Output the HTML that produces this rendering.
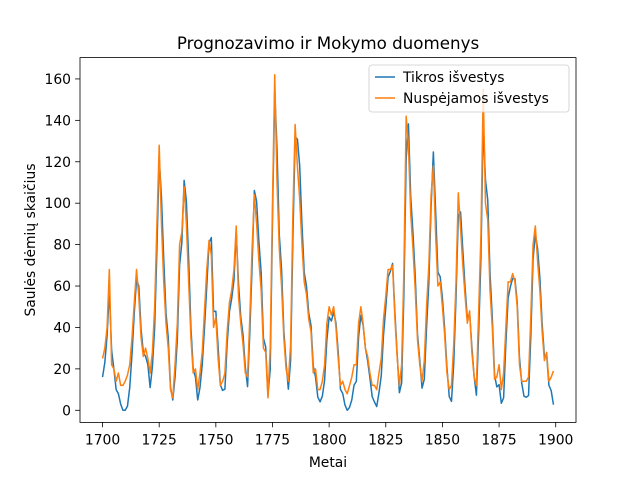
<!DOCTYPE html>
<html><head><meta charset="utf-8"><style>
body{margin:0;background:#fff}
svg text{font-family:"DejaVu Sans","Liberation Sans",sans-serif;fill:#000}
</style></head><body>
<svg id="chart" width="640" height="480">
<rect width="640" height="480" fill="#fff"/>
<text x="328" y="49" font-size="16.7" text-anchor="middle">Prognozavimo ir Mokymo duomenys</text>
<g id="plot"></g>
<text x="328" y="467" font-size="13.9" text-anchor="middle">Metai</text>
<text transform="translate(35,240) rotate(-90)" font-size="13.9" text-anchor="middle">Saulės dėmių skaičius</text>
</svg>
<script>
const startYear = 1700;
const actual = [16,23,36,58,29,20,10,8,3,0,0,2,11,27,47,63,60,39,28,26,22,11,21,40,78,122,103,73,47,35,11,5,16,34,70,81,111,101,73,40,20,16,5,11,22,40,60,80.9,83.4,47.7,47.8,30.7,12.2,9.6,10.2,32.4,47.6,54.0,62.9,85.9,61.2,45.1,36.4,20.9,11.4,37.8,69.8,106.1,100.8,81.6,66.5,34.8,30.6,7.0,19.8,92.5,154.4,125.9,84.8,68.1,38.5,22.8,10.2,24.1,82.9,132.0,130.9,118.1,89.9,66.6,60.0,46.9,41.0,21.3,16.0,6.4,4.1,6.8,14.5,34.0,45.0,43.1,47.5,42.2,28.1,10.1,8.1,2.5,0.0,1.4,5.0,12.2,13.9,35.4,45.8,41.1,30.1,23.9,15.6,6.6,4.0,1.8,8.5,16.6,36.3,49.6,64.2,67.0,70.9,47.8,27.5,8.5,13.2,56.9,121.5,138.3,103.2,85.7,64.6,36.7,24.2,10.7,15.0,40.1,61.5,98.5,124.7,96.3,66.6,64.5,54.1,39.0,20.6,6.7,4.3,22.7,54.8,93.8,95.8,77.2,59.1,44.0,47.0,30.5,16.3,7.3,37.6,74.0,139.0,111.2,101.6,66.2,44.7,17.0,11.3,12.4,3.4,6.0,32.3,54.3,59.7,63.7,63.5,52.2,25.4,13.1,6.8,6.3,7.1,35.6,73.0,85.1,78.0,64.0,41.8,26.2,26.7,12.1,9.5,2.7];
const predicted = [25,30,40,68,22,20,14,18,12,12,14,17,22,35,52,68,55,35,26,30,25,18,28,50,90,128,90,62,42,30,10,6,22,42,80,86,108,90,62,35,18,20,10,18,28,48,68,82,75,40,45,25,12,14,18,38,52,58,68,89,55,42,32,18,16,45,78,104,90,72,58,30,28,6,30,100,162,110,78,60,35,20,14,32,95,138,118,102,80,62,56,44,38,18,20,10,10,14,22,42,50,46,50,40,25,12,14,10,8,12,16,22,22,42,50,42,30,26,18,12,12,10,18,25,44,55,68,68,70,45,26,12,22,68,142,128,95,78,58,34,22,14,24,50,70,104,118,85,60,62,50,36,18,10,12,32,62,105,88,70,55,42,48,28,16,12,48,85,155,100,92,58,40,15,16,22,10,18,40,62,62,66,62,50,22,14,14,14,16,45,80,89,72,58,38,24,28,14,16,19];
const xTicks = [1700,1725,1750,1775,1800,1825,1850,1875,1900];
const yTicks = [0,20,40,60,80,100,120,140,160];

const L=80,R=576,T=57.6,B=422.4;
const xMin=1690.05,xMax=1908.95,yMin=-5.85,yMax=170.3;
const X=v=>L+(v-xMin)/(xMax-xMin)*(R-L);
const Y=v=>B-(v-yMin)/(yMax-yMin)*(B-T);
const NS='http://www.w3.org/2000/svg';
const g=document.getElementById('plot');
function mk(t,a,p){const e=document.createElementNS(NS,t);for(const k in a)e.setAttribute(k,a[k]);(p||g).appendChild(e);return e;}

xTicks.forEach(t=>{
  const l=mk('line',{x1:X(t),x2:X(t),y1:B,y2:B+4.9,stroke:'#000','stroke-width':0.8});
  
  
  const s=mk('text',{x:X(t),y:B+22,'font-size':13.9,'text-anchor':'middle'});s.textContent=t;
  
  
});
yTicks.forEach(t=>{
  const l=mk('line',{x1:L-4.9,x2:L,y1:Y(t),y2:Y(t),stroke:'#000','stroke-width':0.8});
  
  
  const s=mk('text',{x:L-9,y:Y(t)+5,'font-size':13.9,'text-anchor':'end'});s.textContent=t;
  
  
});
function line(arr,color,name){
  const pts=arr.map((v,i)=>X(startYear+i).toFixed(2)+','+Y(v).toFixed(2)).join(' ');
  const p=mk('polyline',{points:pts,fill:'none',stroke:color,'stroke-width':1.5,'stroke-linejoin':'round'});
  
  
}
line(actual,'#1f77b4','actual-line');
line(predicted,'#ff7f0e','predicted-line');
const fr=mk('rect',{x:L,y:T,width:R-L,height:B-T,fill:'none',stroke:'#000','stroke-width':0.8});



const lg=mk('g',{});


mk('rect',{x:369,y:65,width:200,height:47,rx:3,fill:'#fff','fill-opacity':0.8,stroke:'#ccc','stroke-width':0.8},lg);
[['Tikros išvestys','#1f77b4',77],['Nuspėjamos išvestys','#ff7f0e',98]].forEach(([txt,c,y],i)=>{
  const e=mk('g',{},lg);
  
  
  mk('line',{x1:375,x2:395,y1:y,y2:y,stroke:c,'stroke-width':1.5},e);
  const s=mk('text',{x:403,y:y+5,'font-size':13.9},e);s.textContent=txt;
});
</script>
</body></html>
